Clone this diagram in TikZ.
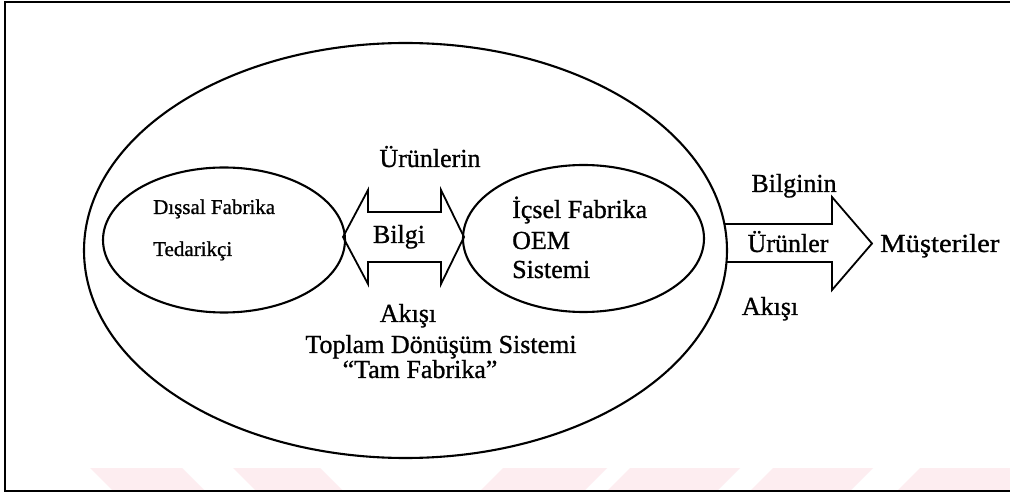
\documentclass[tikz,border=0pt]{standalone}
\usepackage{fontspec}
\setmainfont{Liberation Serif}[BoldFont=Liberation Serif,BoldFeatures={FakeBold=0.9}]
\usetikzlibrary{shapes.geometric}
\definecolor{wmpink}{RGB}{253,237,240}
\begin{document}
\begin{tikzpicture}[x=1pt,y=-1pt,
  oval/.style={draw,ellipse,line width=2.1pt,inner sep=0pt},
  lbl/.style={anchor=base,inner sep=0pt,font=\fontsize{26}{30}\selectfont\bfseries},
  lblsmall/.style={anchor=base west,inner sep=0pt,font=\fontsize{21}{25}\selectfont\bfseries},
  blockarrow/.style={draw,line width=1.8pt,line join=miter},
  wmark/.style={fill=wmpink,draw=none}]
\useasboundingbox (0,0) rectangle (1010,494);
\fill[white] (0,0) rectangle (1010,494);

% faint stripes along the bottom edge
\fill[wmark] (90,468) -- (182,468) -- (204,490) -- (112,490) -- cycle;
\fill[wmark] (233,468) -- (320,468) -- (342,490) -- (255,490) -- cycle;
\fill[wmark] (503,468) -- (607,468) -- (585,490) -- (481,490) -- cycle;
\fill[wmark] (630,468) -- (740,468) -- (718,490) -- (608,490) -- cycle;
\fill[wmark] (773,468) -- (873,468) -- (851,490) -- (751,490) -- cycle;
\fill[wmark] (920,468) -- (1010,468) -- (1010,490) -- (898,490) -- cycle;

% frame
\draw[line width=2.8pt] (1010,2) -- (5,2) -- (5,491) -- (1010,491);

% ellipses
\node[oval,minimum width=643pt,minimum height=415pt] (whole) at (405.5,250.5) {};
\node[oval,minimum width=242pt,minimum height=145pt] (ext) at (224,240) {};
\node[oval,minimum width=241pt,minimum height=147pt] (int) at (583.5,238.5) {};

% two-headed block arrow between the factories
\draw[blockarrow] (343,237) -- (368,190) -- (368,212) -- (441,212) -- (441,190)
  -- (464,237) -- (441,284) -- (441,262) -- (368,262) -- (368,284) -- cycle;

% block arrow towards the customers
\draw[blockarrow] (725,224) -- (832,224) -- (832,197) -- (872,243.5)
  -- (832,290) -- (832,262) -- (726.5,262);

% texts
\node[lbl] (urunlerin) at (430,167) {Ürünlerin};
\node[lbl] (bilgi) at (399,243) {Bilgi};
\node[lbl] (akisi1) at (408,322) {Akışı};
\node[lbl] (toplam) at (441,353) {Toplam Dönüşüm Sistemi};
\node[lbl] (tam) at (420,378) {“Tam Fabrika”};

\node[lblsmall] (dissal) at (153,214) {Dışsal Fabrika};
\node[lblsmall] (tedarik) at (153,256) {Tedarikçi};

\node[lbl,anchor=base west] (icsel) at (512,218) {İçsel Fabrika};
\node[lbl,anchor=base west] (oem) at (512,249) {OEM};
\node[lbl,anchor=base west] (sistemi) at (512,278) {Sistemi};

\node[lbl] (bilginin) at (794,192) {Bilginin};
\node[lbl] (urunler) at (788,252) {Ürünler};
\node[lbl] (akisi2) at (770,315) {Akışı};
\node[lbl,anchor=base west,xscale=1.1] (musteri) at (880,252) {Müşteriler};
\end{tikzpicture}
\end{document}
